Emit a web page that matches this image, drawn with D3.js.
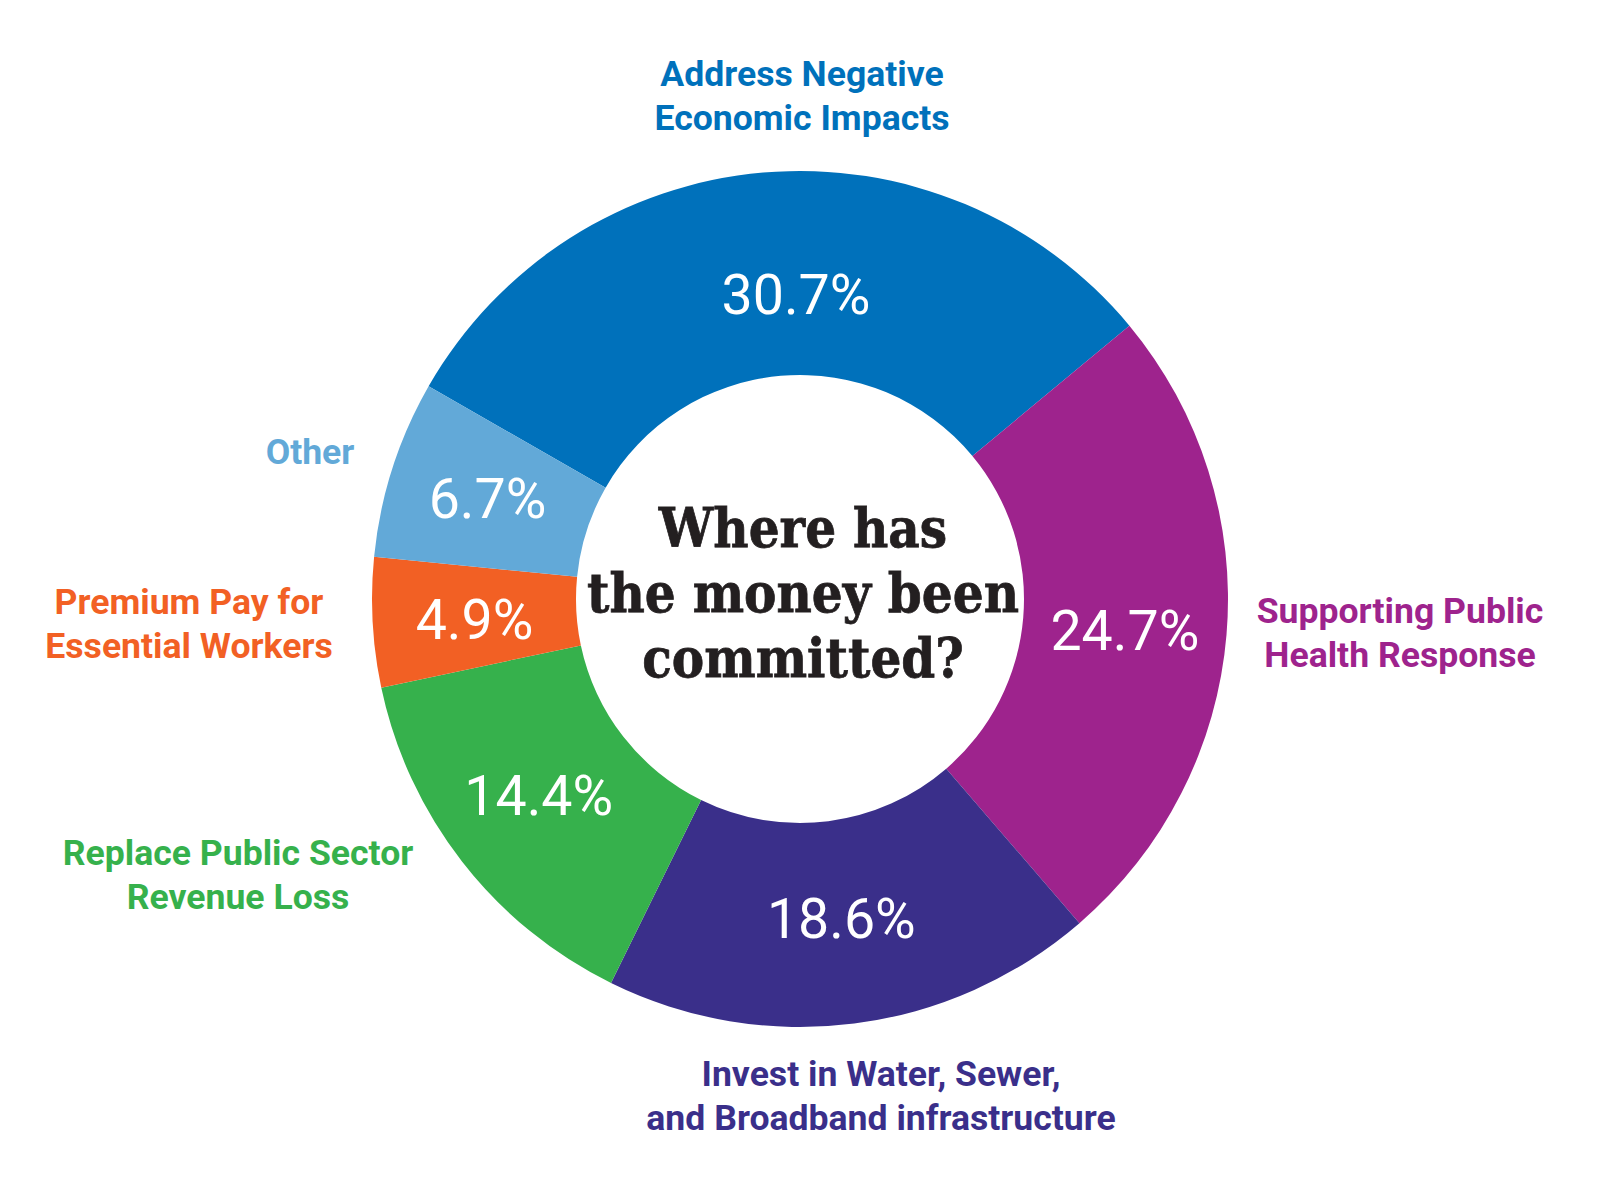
<!DOCTYPE html>
<html>
<head>
<meta charset="utf-8">
<script src="https://cdn.jsdelivr.net/npm/d3@7"></script>
<style>
  html, body { margin: 0; padding: 0; background: #ffffff; }
  svg { display: block; }
</style>
</head>
<body>
<svg id="chart" width="1600" height="1200"></svg>
<script>
// ---- data ----
const categories = [
  "Address Negative Economic Impacts",
  "Supporting Public Health Response",
  "Invest in Water, Sewer, and Broadband infrastructure",
  "Replace Public Sector Revenue Loss",
  "Premium Pay for Essential Workers",
  "Other"
];
const labelLines = [
  ["Address Negative", "Economic Impacts"],
  ["Supporting Public", "Health Response"],
  ["Invest in Water, Sewer,", "and Broadband infrastructure"],
  ["Replace Public Sector", "Revenue Loss"],
  ["Premium Pay for", "Essential Workers"],
  ["Other"]
];
const values = [30.7, 24.7, 18.6, 14.4, 4.9, 6.7];
const valueLabels = ["30.7%", "24.7%", "18.6%", "14.4%", "4.9%", "6.7%"];
const colors = ["#0071BB", "#9E238D", "#3A2F8A", "#36B14C", "#F26024", "#62A9D8"];
const titleLines = ["Where has", "the money been", "committed?"];

// ---- layout ----
const cx = 800, cy = 599;
const outerR = 428, innerR = 224;
const startDeg = -60.2;
const labelOffsets = [[2, -513], [600, 24], [81, 487], [-562, 266], [-611, 15], [-490, -135]];
const pctNudge = [[24, 20], [0, 4], [0, -4], [-4, -4], [0, 2], [-2, -2]];

const svg = d3.select("#chart");
const g = svg.append("g").attr("transform", `translate(${cx},${cy})`);

const pie = d3.pie()
  .sort(null)
  .value(d => d)
  .startAngle(startDeg * Math.PI / 180)
  .endAngle(startDeg * Math.PI / 180 + 2 * Math.PI);

const arcs = pie(values);
const arc = d3.arc().innerRadius(innerR).outerRadius(outerR);
const midArc = d3.arc().innerRadius((innerR + outerR) / 2).outerRadius((innerR + outerR) / 2);

g.selectAll("path.slice")
  .data(arcs)
  .join("path")
  .attr("class", "slice")
  .attr("d", arc)
  .attr("fill", (d, i) => colors[i]);

g.selectAll("text.pct")
  .data(arcs)
  .join("text")
  .attr("class", "pct")
  .attr("x", (d, i) => midArc.centroid(d)[0] + pctNudge[i][0])
  .attr("y", (d, i) => midArc.centroid(d)[1] + pctNudge[i][1] + 20)
  .attr("text-anchor", "middle")
  .attr("font-family", "Roboto, sans-serif")
  .attr("font-weight", 400)
  .attr("font-size", 55.5)
  .attr("fill", "#ffffff")
  .text((d, i) => valueLabels[i]);

// category labels
const lab = g.selectAll("text.cat")
  .data(labelLines)
  .join("text")
  .attr("class", "cat")
  .attr("text-anchor", "middle")
  .attr("font-family", "Roboto, sans-serif")
  .attr("font-weight", 700)
  .attr("font-size", 35.6)
  .attr("fill", (d, i) => colors[i]);
lab.selectAll("tspan")
  .data((d, i) => d.map((t, j) => ({ t, j, i })))
  .join("tspan")
  .attr("x", d => labelOffsets[d.i][0])
  .attr("y", d => labelOffsets[d.i][1] + d.j * 43.5)
  .text(d => d.t);

// center title (slab serif, horizontally condensed)
const tg = g.append("g").attr("transform", "translate(3,0) scale(0.9,1)");
tg.selectAll("text.title")
  .data(titleLines)
  .join("text")
  .attr("class", "title")
  .attr("x", 0)
  .attr("y", (d, i) => -52 + i * 65)
  .attr("text-anchor", "middle")
  .attr("font-family", "'DejaVu Serif', serif")
  .attr("font-weight", 700)
  .attr("font-size", 54)
  .attr("fill", "#231F20")
  .attr("stroke", "#231F20")
  .attr("stroke-width", 0.8)
  .text(d => d);
</script>
</body>
</html>
